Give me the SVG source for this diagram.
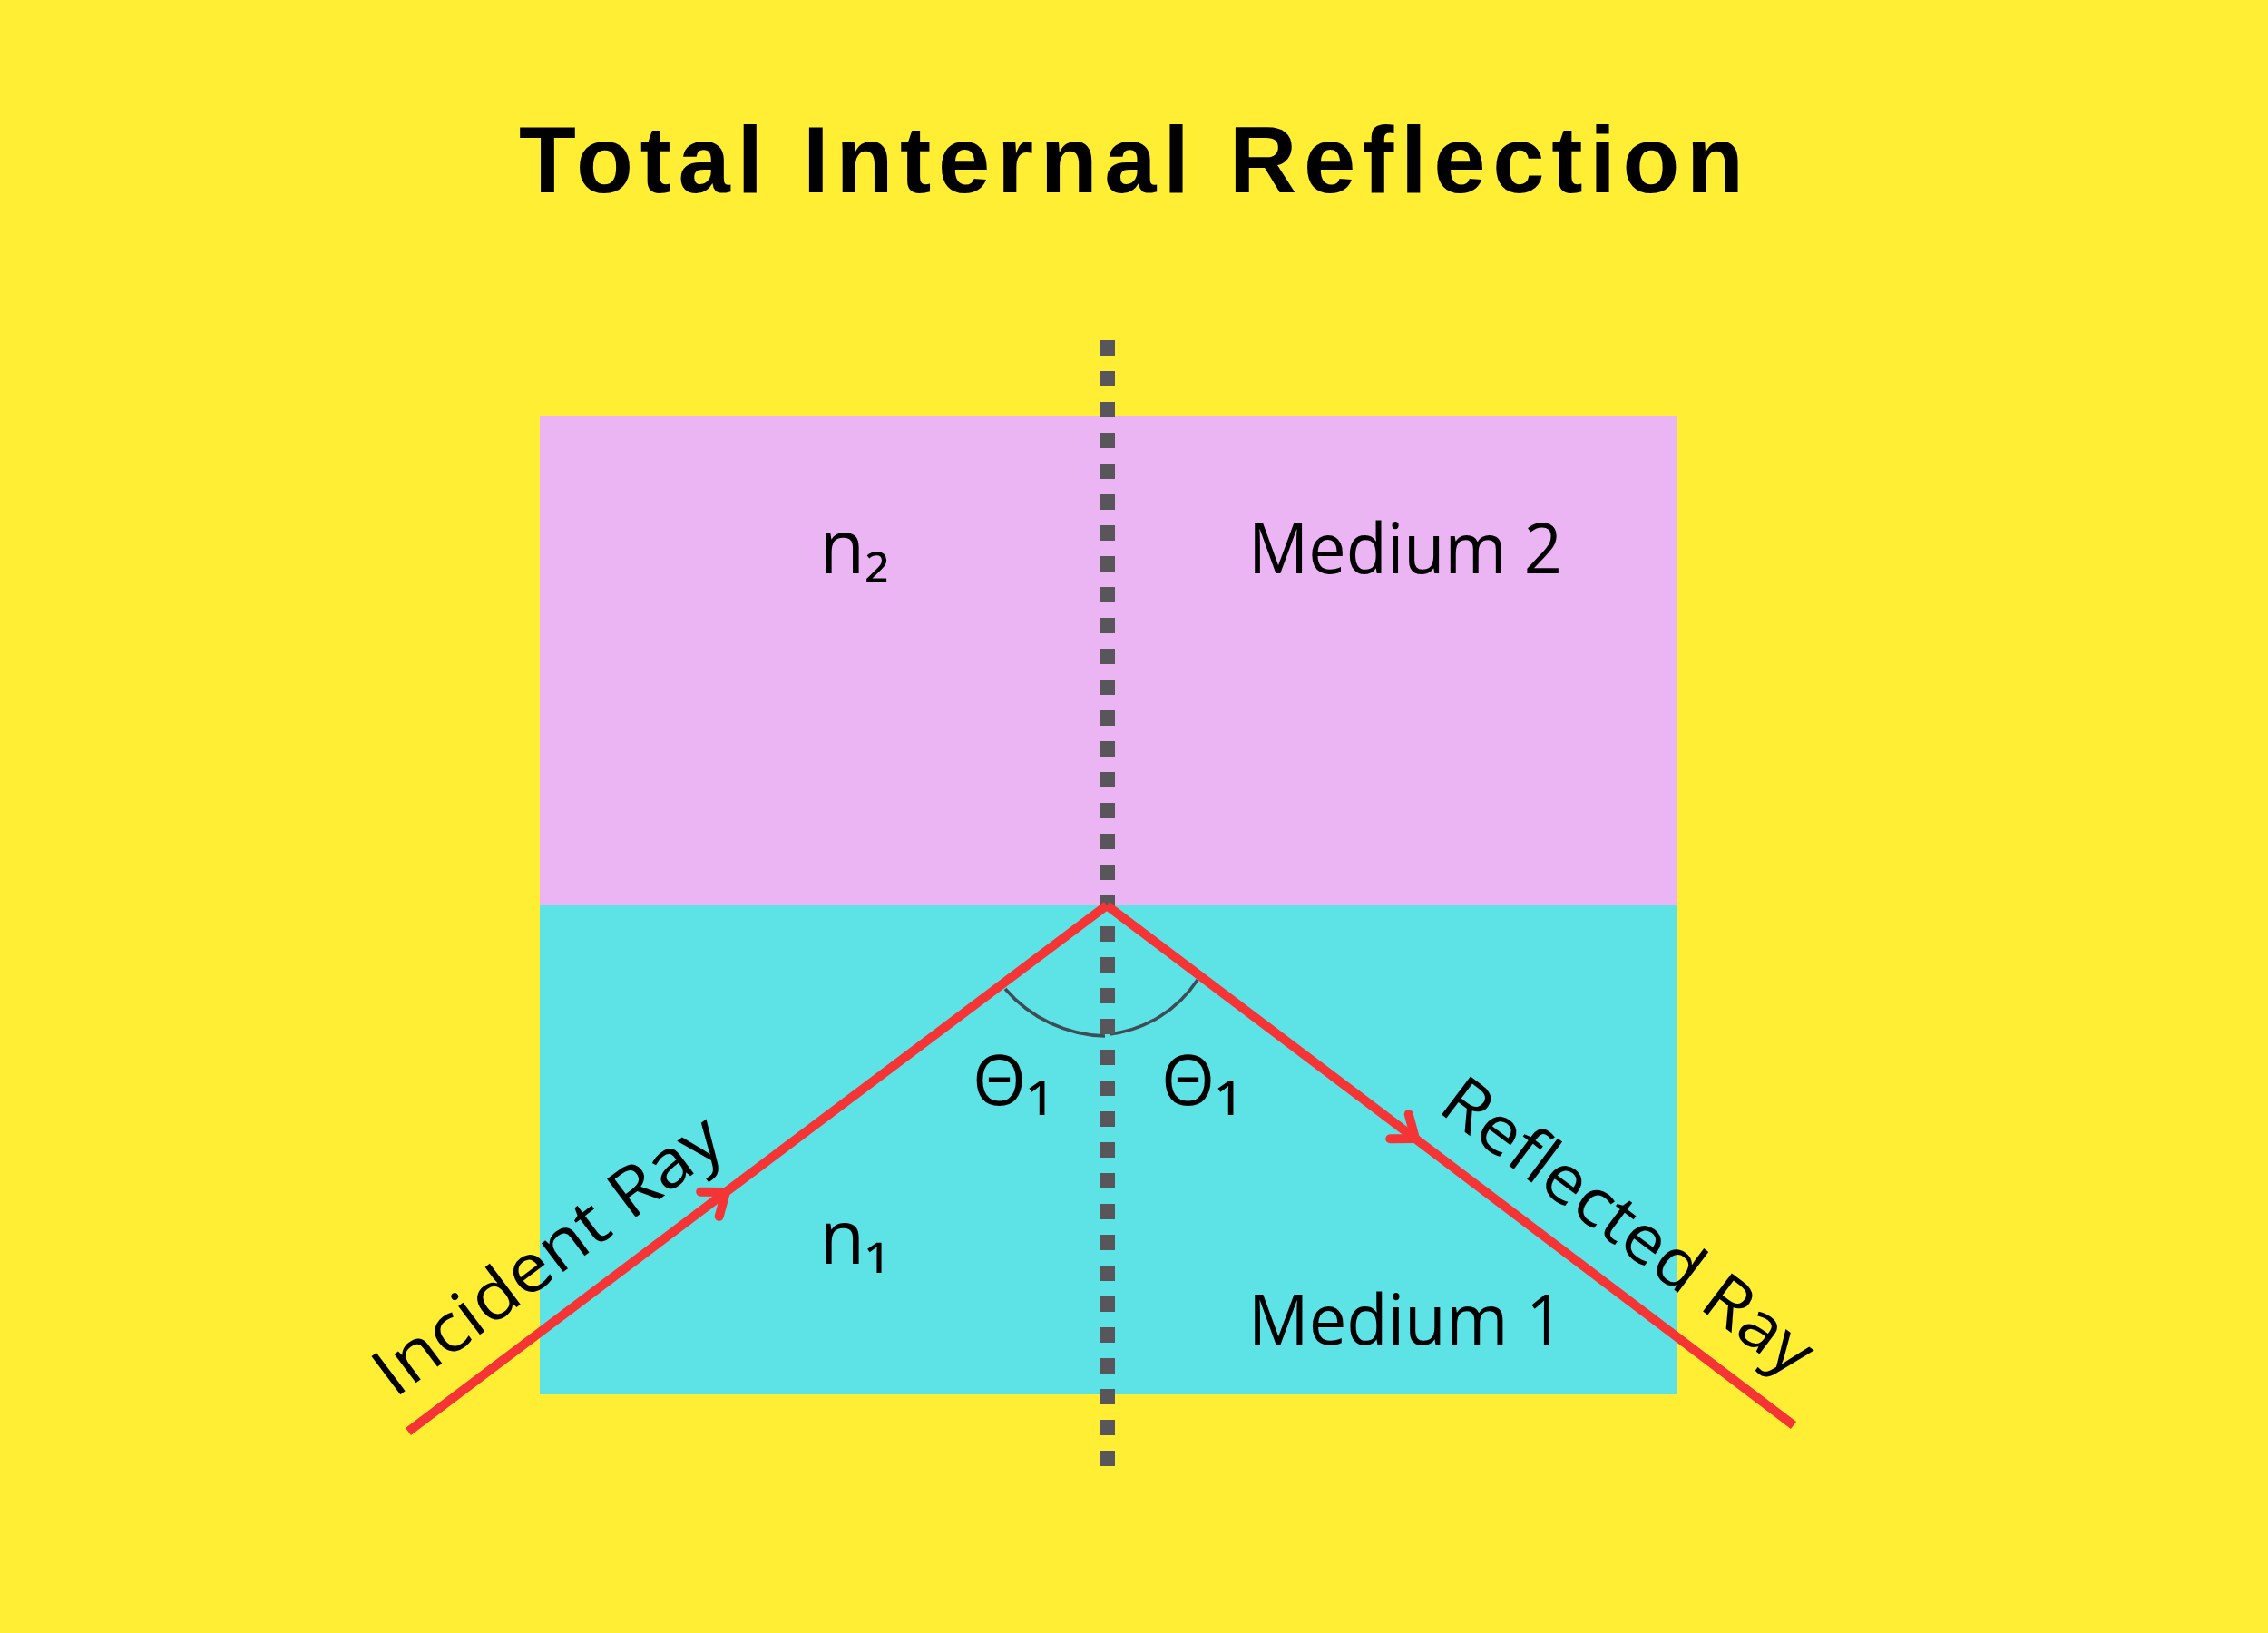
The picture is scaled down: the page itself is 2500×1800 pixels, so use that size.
<svg xmlns="http://www.w3.org/2000/svg" width="2500" height="1800" viewBox="0 0 2500 1800">
  <defs>
    <style>
      .lbl { font-family: "Open Sans", "Liberation Sans", "DejaVu Sans", sans-serif; fill: #000000; }
      .title { font-family: "Liberation Sans", "Open Sans", sans-serif; font-weight: 700; fill: #000000; }
      .ray { stroke: #F53535; stroke-width: 10; fill: none; stroke-linecap: butt; stroke-linejoin: round; }
      .arc { stroke: #3E4C55; stroke-width: 3.5; fill: none; }
    </style>
    <marker id="chev" markerUnits="userSpaceOnUse" markerWidth="60" markerHeight="60" refX="0" refY="0" viewBox="-30 -30 60 60" orient="auto" overflow="visible">
      <path d="M-22,-17 L0,0 L-22,17" fill="none" stroke="#F53535" stroke-width="10" stroke-linecap="round" stroke-linejoin="round"/>
    </marker>
  </defs>

  <rect x="0" y="0" width="2500" height="1800" fill="#FFEE33"/>

  <text class="title" x="572" y="212" font-size="103" textLength="1350" lengthAdjust="spacing">Total Internal Reflection</text>

  <g id="medium2">
    <rect x="595" y="458" width="1253" height="540" fill="#EBB5F3"/>
    <text class="lbl" x="1376" y="632" font-size="77" textLength="346" lengthAdjust="spacingAndGlyphs">Medium 2</text>
    <text class="lbl" x="903" y="632" font-size="82">n<tspan font-size="78">₂</tspan></text>
  </g>

  <g id="medium1">
    <rect x="595" y="998" width="1253" height="539" fill="#5DE2E6"/>
    <text class="lbl" x="1376" y="1482" font-size="77" textLength="348" lengthAdjust="spacingAndGlyphs">Medium 1</text>
    <text class="lbl" x="903" y="1393" font-size="82">n<tspan font-size="78">₁</tspan></text>
  </g>

  <g id="angles">
    <path class="arc" d="M1108,1090 A150,150 0 0,0 1218,1142"/>
    <path class="arc" d="M1223,1140 A135,135 0 0,0 1320,1080"/>
    <text class="lbl" x="1072" y="1218" font-size="76">Θ<tspan font-size="86">₁</tspan></text>
    <text class="lbl" x="1280" y="1218" font-size="76">Θ<tspan font-size="86">₁</tspan></text>
  </g>

  <g id="connectors">
    <line id="normal" x1="1220.5" y1="375" x2="1220.5" y2="1616" stroke="#58555B" stroke-width="17" stroke-dasharray="17 17"/>
    <path id="incident" class="ray" d="M450,1578 L800,1314 L1220,998" marker-mid="url(#chev)"/>
    <path id="reflected" class="ray" d="M1220,998 L1560,1255 L1977,1571" marker-mid="url(#chev)"/>
  </g>

  <g id="ray-labels">
    <text class="lbl" font-size="74" transform="translate(435,1542) rotate(-37)" textLength="460" lengthAdjust="spacingAndGlyphs">Incident Ray</text>
    <text class="lbl" font-size="74" transform="translate(1583,1224) rotate(37)" textLength="492" lengthAdjust="spacingAndGlyphs">Reflected Ray</text>
  </g>
</svg>
